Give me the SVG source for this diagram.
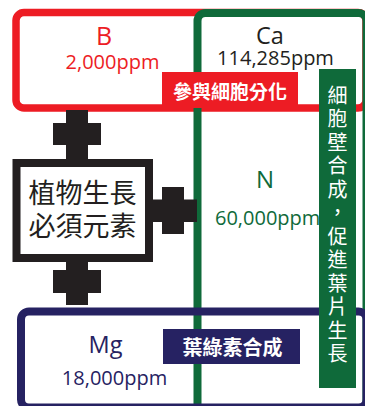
<svg xmlns="http://www.w3.org/2000/svg" width="365" height="406" viewBox="0 0 365 406">
<style>
.lat{font-family:"Open Sans","Noto Sans",sans-serif}
.cjk{font-family:"Noto Sans CJK TC","Noto Sans CJK SC",sans-serif}
.frame{fill:none}
.blk{fill:#231F20}
.lbl{fill:#FFFFFF;font-weight:bold;font-size:19px;text-anchor:middle}
</style>
<rect width="365" height="406" fill="#FFFFFF"/>
<g id="node-B">
<rect class="frame" x="16" y="12.5" width="350" height="95.5" rx="8" stroke="#ED1C24" stroke-width="7.5"/>
<text class="lat" x="104" y="45" font-size="25" fill="#ED1C24" text-anchor="middle">B</text>
<text class="lat" x="112.5" y="69" font-size="20" fill="#ED1C24" text-anchor="middle">2,000ppm</text>
</g>
<g id="node-Ca-N">
<rect class="frame" x="197.5" y="13" width="169" height="410" rx="8" stroke="#0F6A3A" stroke-width="8"/>
<text class="lat" x="270" y="43.5" font-size="23.5" fill="#231F20" text-anchor="middle">Ca</text>
<text class="lat" x="275.5" y="65" font-size="20" fill="#231F20" text-anchor="middle">114,285ppm</text>
<text class="lat" x="265" y="188" font-size="24" fill="#0F6A3A" text-anchor="middle">N</text>
<text class="lat" x="215" y="225" font-size="20" fill="#0F6A3A">60,000ppm</text>
</g>
<g id="node-Mg">
<rect class="frame" x="21" y="311.5" width="345.5" height="96" rx="8" stroke="#262262" stroke-width="8"/>
<text class="lat" x="105.5" y="353.3" font-size="23.5" fill="#262262" text-anchor="middle">Mg</text>
<text class="lat" x="114.5" y="385" font-size="20" fill="#262262" text-anchor="middle">18,000ppm</text>
</g>
<g id="connectors" class="blk">
<path d="M66,110H88V123H101V145H88V159H66V145H53V123H66Z"/>
<path d="M66,262H88V270H101V293H88V305H66V293H53V270H66Z"/>
<path d="M153,199.5H162V187H184V234H162V222H153Z M184,199.5H197V222H184Z"/>
</g>
<g id="node-center">
<rect x="16.5" y="163" width="132.5" height="95" fill="#FFFFFF" stroke="#231F20" stroke-width="8"/>
<text class="cjk" x="82.5" y="203.3" font-size="27" fill="#231F20" text-anchor="middle">植物生長</text>
<text class="cjk" x="82.5" y="236.3" font-size="27" fill="#231F20" text-anchor="middle">必須元素</text>
</g>
<g id="label-red">
<rect x="162" y="72" width="136" height="36" fill="#ED1C24"/>
<text class="cjk lbl" x="230" y="98.5">參與細胞分化</text>
</g>
<g id="label-navy">
<rect x="163" y="329" width="137" height="35" fill="#262262"/>
<text class="cjk lbl" x="232.5" y="354.6" style="font-size:20px">葉綠素合成</text>
</g>
<g id="label-green">
<rect x="319" y="69" width="37" height="319" fill="#0F6A3A"/>
<text class="cjk" x="337.5" y="85" font-size="20" fill="#FFFFFF" writing-mode="vertical-rl" letter-spacing="3.5">細胞壁合成，促進葉片生長</text>
</g>
</svg>
